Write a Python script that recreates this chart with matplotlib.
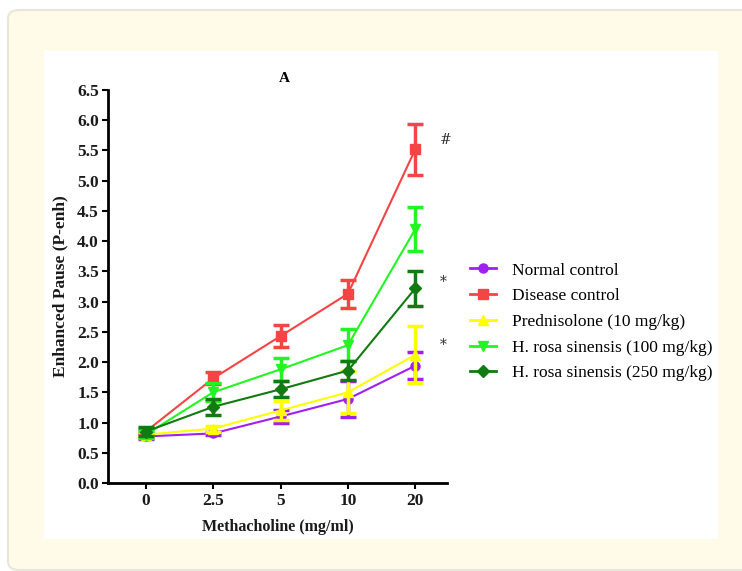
import matplotlib
matplotlib.use("Agg")
import matplotlib.pyplot as plt
from matplotlib.patches import FancyBboxPatch, Rectangle
from matplotlib.lines import Line2D
import numpy as np

# doses (categorical x axis)
doses = ['0', '2.5', '5', '10', '20']

groups = ['Normal control', 'Disease control', 'Prednisolone (10 mg/kg)',
          'H. rosa sinensis (100 mg/kg)', 'H. rosa sinensis (250 mg/kg)']

normal = [0.77, 0.82, 1.10, 1.39, 1.94]
normal_err = [0.05, 0.03, 0.10, 0.30, 0.22]
disease = [0.85, 1.73, 2.43, 3.13, 5.52]
disease_err = [0.05, 0.10, 0.18, 0.23, 0.42]
pred = [0.80, 0.90, 1.20, 1.50, 2.12]
pred_err = [0.04, 0.05, 0.15, 0.35, 0.47]
hrs100 = [0.80, 1.50, 1.88, 2.28, 4.20]
hrs100_err = [0.06, 0.15, 0.19, 0.26, 0.37]
hrs250 = [0.85, 1.26, 1.55, 1.86, 3.22]
hrs250_err = [0.07, 0.13, 0.13, 0.15, 0.29]

colors = ['#A020F0', '#F54444', '#FFFF00', '#22F522', '#117A11']
markers = ['o', 's', '^', 'v', 'D']
msizes = [6.5, 6.5, 7, 7, 6]

# significance marks: (label, y)
marks = [('#', 5.68), ('*', 3.33), ('*', 2.28)]

fig = plt.figure(figsize=(7.42, 5.71), dpi=100)
W, H = 742, 571

# page background: cream rounded panel with white inner box
panel = FancyBboxPatch((8 / W, 1 - 570 / H), (760 - 8) / W, (570 - 10) / H,
                       boxstyle='round,pad=0,rounding_size=0.015',
                       transform=fig.transFigure, facecolor='#FFFBE8',
                       edgecolor='#E8E6DC', linewidth=1.5, zorder=-10)
fig.patches.append(panel)
fig.patches.append(Rectangle((44 / W, 1 - 539 / H), (718 - 44) / W, (539 - 51) / H,
                             transform=fig.transFigure, facecolor='white',
                             edgecolor='none', zorder=-9))

ax = fig.add_axes([108 / W, 1 - 483 / H, (447 - 108) / W, (483 - 90) / H])
ax.patch.set_alpha(0)

x = np.arange(len(doses))
series = [(normal, normal_err), (disease, disease_err), (pred, pred_err),
          (hrs100, hrs100_err), (hrs250, hrs250_err)]
for k, (vals, errs) in enumerate(series):
    ax.errorbar(x, vals, yerr=errs, color=colors[k], marker=markers[k],
                markersize=msizes[k], linewidth=1.5, elinewidth=2.5,
                capsize=6, capthick=2.5, zorder=3 + k)

for lab, yy in marks:
    ax.text(4.37, yy, lab, fontsize=10, color='#333333',
            family='DejaVu Serif', ha='left', va='center')

ax.set_xlim(-0.56, 4.47)
ax.set_ylim(0, 6.5)
ax.set_xticks(x)
ax.set_xticklabels(doses)
ax.set_yticks(np.arange(0, 6.51, 0.5))
ax.set_yticklabels([f'{v:.1f}' for v in np.arange(0, 6.51, 0.5)])

for s in ['top', 'right']:
    ax.spines[s].set_visible(False)
for s in ['left', 'bottom']:
    ax.spines[s].set_linewidth(2)
ax.tick_params(direction='out', length=4.5, width=1.5)
ax.tick_params(axis='y', pad=2)
ax.tick_params(axis='x', pad=3)
for lbl in ax.get_xticklabels() + ax.get_yticklabels():
    lbl.set_fontfamily('Liberation Serif')
    lbl.set_fontweight('bold')
    lbl.set_fontsize(12.5)
    lbl.set_color('#1a1a1a')

ax.set_xlabel('Methacholine (mg/ml)', fontsize=11.5, fontweight='bold',
              family='Liberation Serif', labelpad=7, color='#1a1a1a')
ax.set_ylabel('Enhanced Pause (P-enh)', fontsize=12.5, fontweight='bold',
              family='Liberation Serif', labelpad=6, color='#1a1a1a')
ax.set_title('A', fontsize=11, fontweight='bold', family='Liberation Serif',
             pad=6, x=0.52)

handles = [Line2D([], [], color=colors[k], marker=markers[k], markersize=msizes[k],
                  linewidth=2) for k in range(len(groups))]
ax.legend(handles, groups, loc='center left', bbox_to_anchor=(1.068, 0.41),
          frameon=False, prop={'family': 'Liberation Serif', 'size': 12.5},
          handlelength=1.5, handletextpad=0.9, labelspacing=0.55,
          borderaxespad=0, borderpad=0)

fig.savefig('out.png', dpi=100)
